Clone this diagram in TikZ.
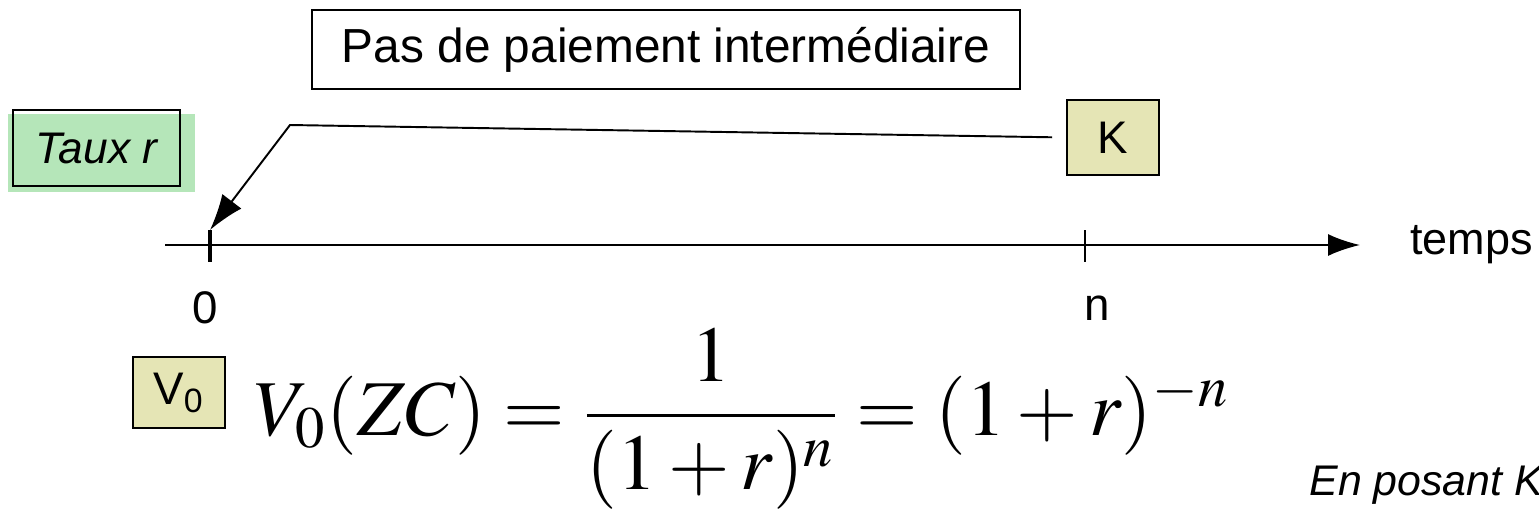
\documentclass[tikz,border=0pt]{standalone}
\usepackage{amsmath}
\usepackage{mathptmx}
\usepackage[no-math]{fontspec}
\setmainfont{Liberation Sans}
\usepackage{tikz}
\usetikzlibrary{arrows.meta,calc}

\definecolor{tauxgreen}{RGB}{181,230,185}
\definecolor{boxkhaki}{RGB}{229,229,181}

\tikzset{
  label box/.style={draw=black, line width=0.5pt, inner sep=0pt, font=\fontsize{13}{15}\selectfont},
  value box/.style={label box, fill=boxkhaki, minimum width=9.2mm},
  axis line/.style={line width=0.55pt}
}

\begin{document}
\begin{tikzpicture}[x=0.1mm, y=-0.1mm]
\useasboundingbox (0,0) rectangle (1539,521);

% Commentaire en haut
\node[label box, fill=white, minimum width=70.8mm, minimum height=7.9mm, font=\fontsize{13.6}{16}\selectfont] (nopay) at (666,49.5) {Pas de paiement intermédiaire};

% Taux
\coordinate (ratec) at (96.5,148);
\fill[tauxgreen] ($(ratec)+(-88.5,44)$) rectangle ($(ratec)+(98.5,-34)$);
\node[label box, minimum width=16.7mm, minimum height=7.6mm, font=\fontsize{12.6}{15}\itshape] (rate) at (ratec) {Taux r};

% Flux et valeur
\node[value box, minimum height=7.5mm] (kbox) at (1113,137.5) {K};
\node[value box, minimum height=7.1mm] (vbox) at (179,392.5) {V\textsubscript{0}};

% Axe du temps
\coordinate (axstart) at (165,245);
\coordinate (axend) at (1360,245);
\draw[axis line, -{Latex[length=3.2mm, width=2.2mm]}] (axstart) -- (axend);
\node[font=\fontsize{12.8}{15}\selectfont, anchor=west] (temps) at (1398,245) {temps};

\coordinate (t0) at (210,245);
\coordinate (tn) at (1085,245);
\draw[line width=1.1pt] ($(t0)+(0,-15)$) coordinate (tick0) -- ($(t0)+(0,17)$);
\draw[axis line] ($(tn)+(0,-15)$) -- ($(tn)+(0,17)$);
\node[font=\fontsize{13}{15}\selectfont] (zero) at (205,308) {0};
\node[font=\fontsize{13}{15}\selectfont] (nlab) at (1097,308) {n};

% Fleche de K vers 0
\coordinate (bend) at (290,125);
\draw[axis line, -{Latex[length=3.6mm, width=2.4mm]}, shorten <=4pt] (kbox.west) -- (bend) -- (tick0);

% Formule
\node[font=\fontsize{22.5}{27}\selectfont] (formula) at (742,416) {$V_0(ZC)=\dfrac{1\vphantom{(}}{(1+r)^n}=(1+r)^{-n}$};

\node[font=\fontsize{12.2}{15}\itshape, anchor=west] (posant) at (1297,485) {En posant K};

\end{tikzpicture}
\end{document}
